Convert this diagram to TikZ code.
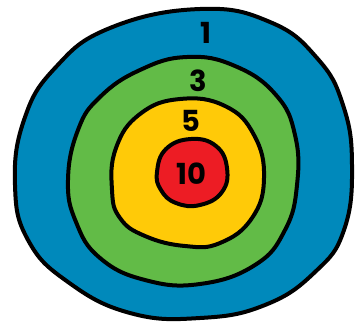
\documentclass[tikz,border=0pt]{standalone}
\usepackage{fontspec}
\setmainfont{Poppins}
\usetikzlibrary{calc}
\definecolor{ringblue}{RGB}{0,137,187}
\definecolor{ringgreen}{RGB}{98,187,71}
\definecolor{ringyellow}{RGB}{255,202,8}
\definecolor{ringred}{RGB}{237,28,36}
\tikzset{
  ring/.style={draw=black, line width=4pt, line join=round},
  score/.style={font=\bfseries\fontsize{29}{29}\selectfont, text=black, inner sep=0pt}
}
\begin{document}
\begin{tikzpicture}[x=1pt,y=-1pt]
\useasboundingbox (0,0) rectangle (355,322);
% outer blue ring
\draw[ring, fill=ringblue] plot[smooth cycle, tension=0.75] coordinates {
  (15,185) (24,120) (55,68) (110,28) (200,9) (270,22) (317,58)
  (343,105) (352,165) (344,230) (315,272) (265,305) (200,318)
  (130,313) (68,282) (28,240)};
% green ring
\draw[ring, fill=ringgreen] plot[smooth cycle, tension=0.75] coordinates {
  (68,180) (78,130) (100,97) (140,70) (187,57) (235,66) (276,95)
  (295,135) (297,185) (285,230) (255,265) (200,284) (145,280)
  (100,258) (76,222)};
% yellow ring
\draw[ring, fill=ringyellow] plot[smooth cycle, tension=0.75] coordinates {
  (112,190) (116,148) (140,114) (180,99) (225,106) (254,135)
  (264,178) (252,218) (220,243) (185,246) (145,236) (120,218)};
% red center
\draw[ring, fill=ringred] plot[smooth cycle, tension=0.75] coordinates {
  (157,172) (166,149) (191,139) (216,146) (227,168) (222,192)
  (200,205) (176,203) (161,190)};
\node[score] (s1) at (206,33) {1};
\node[score] (s3) at (198,81) {3};
\node[score] (s5) at (191,121) {5};
\node[score] (s10) at (191,174) {10};
\end{tikzpicture}
\end{document}
